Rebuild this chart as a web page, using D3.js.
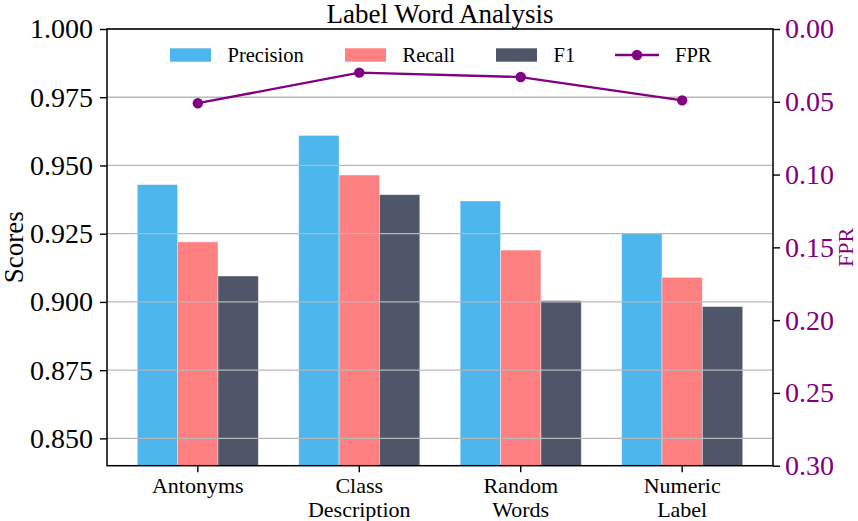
<!DOCTYPE html>
<html>
<head>
<meta charset="utf-8">
<script src="https://cdn.jsdelivr.net/npm/d3@7"></script>
<style>
  body { margin: 0; background: #fff; }
</style>
</head>
<body>
<script>
// Datos
var categorias = [["Antonyms"], ["Class", "Description"], ["Random", "Words"], ["Numeric", "Label"]];
var precision = [0.943, 0.961, 0.937, 0.925];
var recall = [0.922, 0.9465, 0.919, 0.909];
var f1 = [0.9095, 0.9393, 0.9005, 0.8983];
var fpr = [0.051, 0.030, 0.033, 0.049];
var ticksScores = [0.850, 0.875, 0.900, 0.925, 0.950, 0.975, 1.000];
var ticksFPR = [0.00, 0.05, 0.10, 0.15, 0.20, 0.25, 0.30];

var series = [
    { nombre: "Precision", valores: precision, color: "#4db6ec" },
    { nombre: "Recall", valores: recall, color: "#ff8080" },
    { nombre: "F1", valores: f1, color: "#4f566a" }
];
var morado = "#800080";
var fuente = "Liberation Serif";

var ancho = 858, alto = 521;
var izq = 107, der = 773, arriba = 29, abajo = 465.7;
var anchoBarra = 0.25;

var svg = d3.select("body").append("svg")
            .attr("width", ancho)
            .attr("height", alto)
            .attr("font-family", fuente);

// Escalas
var x = d3.scaleLinear().domain([-0.5625, 3.5625]).range([izq, der]);
var y = d3.scaleLinear().domain([0.84, 1.0]).range([abajo, arriba]);
var y2 = d3.scaleLinear().domain([0, 0.3]).range([arriba, abajo]);

// Barras
series.forEach(function(s, k) {
    var desplazamiento = (k - 1) * anchoBarra;
    svg.append("g").selectAll("rect")
       .data(s.valores)
       .enter().append("rect")
       .attr("x", function(d, i) { return x(i + desplazamiento - anchoBarra / 2); })
       .attr("y", function(d) { return y(d); })
       .attr("width", function(d, i) { return x(i + desplazamiento + anchoBarra / 2) - x(i + desplazamiento - anchoBarra / 2); })
       .attr("height", function(d) { return y(0.84) - y(d); })
       .attr("fill", s.color)
       .attr("stroke", "#ffffff")
       .attr("stroke-opacity", 0.5)
       .attr("stroke-width", 0.8);
});

// Rejilla horizontal (encima de las barras)
svg.append("g").selectAll("line")
   .data(ticksScores)
   .enter().append("line")
   .attr("x1", izq).attr("x2", der)
   .attr("y1", function(d) { return y(d); })
   .attr("y2", function(d) { return y(d); })
   .attr("stroke", "#b8b8b8")
   .attr("stroke-width", 1.3);

// Eje izquierdo
var ejeIzq = svg.append("g")
   .attr("transform", "translate(" + izq + ",0)")
   .call(d3.axisLeft(y).tickValues(ticksScores).tickFormat(d3.format(".3f")).tickSize(7).tickPadding(7));
ejeIzq.attr("font-family", fuente);
ejeIzq.select(".domain").remove();
ejeIzq.selectAll("line").attr("stroke", "black").attr("stroke-width", 1.4);
ejeIzq.selectAll("text").attr("font-size", "28px").attr("fill", "black").attr("font-family", fuente);

// Eje derecho (FPR invertido)
var ejeDer = svg.append("g")
   .attr("transform", "translate(" + der + ",0)")
   .call(d3.axisRight(y2).tickValues(ticksFPR).tickFormat(d3.format(".2f")).tickSize(7).tickPadding(5));
ejeDer.attr("font-family", fuente);
ejeDer.select(".domain").remove();
ejeDer.selectAll("line").attr("stroke", "black").attr("stroke-width", 1.4);
ejeDer.selectAll("text").attr("font-size", "28px").attr("fill", morado).attr("font-family", fuente);

// Eje inferior con etiquetas en dos líneas
var ejeX = svg.append("g");
ejeX.selectAll("line")
    .data(categorias)
    .enter().append("line")
    .attr("x1", function(d, i) { return x(i); })
    .attr("x2", function(d, i) { return x(i); })
    .attr("y1", abajo).attr("y2", abajo + 6.5)
    .attr("stroke", "black").attr("stroke-width", 1.4);
ejeX.selectAll("text")
    .data(categorias)
    .enter().append("text")
    .attr("text-anchor", "middle")
    .attr("font-family", fuente)
    .attr("font-size", "22px")
    .attr("fill", "black")
    .each(function(d, i) {
        var t = d3.select(this);
        d.forEach(function(linea, j) {
            t.append("tspan")
             .attr("x", x(i))
             .attr("y", 493 + j * 23.5)
             .text(linea);
        });
    });

// Marco de la gráfica
svg.append("rect")
   .attr("x", izq).attr("y", arriba)
   .attr("width", der - izq).attr("height", abajo - arriba)
   .attr("fill", "none")
   .attr("stroke", "black")
   .attr("stroke-width", 1.5);

// Línea FPR
var linea = d3.line()
    .x(function(d, i) { return x(i); })
    .y(function(d) { return y2(d); });
svg.append("path")
   .datum(fpr)
   .attr("d", linea)
   .attr("fill", "none")
   .attr("stroke", morado)
   .attr("stroke-width", 2.3);
svg.append("g").selectAll("circle")
   .data(fpr)
   .enter().append("circle")
   .attr("cx", function(d, i) { return x(i); })
   .attr("cy", function(d) { return y2(d); })
   .attr("r", 5.2)
   .attr("fill", morado);

// Títulos
svg.append("text")
   .attr("x", (izq + der) / 2).attr("y", 23)
   .attr("text-anchor", "middle")
   .attr("font-family", fuente)
   .attr("font-size", "27px")
   .attr("fill", "black")
   .text("Label Word Analysis");

svg.append("text")
   .attr("transform", "translate(22.5," + ((arriba + abajo) / 2) + ") rotate(-90)")
   .attr("text-anchor", "middle")
   .attr("font-family", fuente)
   .attr("font-size", "27px")
   .attr("fill", "black")
   .text("Scores");

svg.append("text")
   .attr("transform", "translate(852.5," + ((arriba + abajo) / 2) + ") rotate(-90)")
   .attr("text-anchor", "middle")
   .attr("font-family", fuente)
   .attr("font-size", "22px")
   .attr("fill", morado)
   .text("FPR");

// Leyenda
var leyendaY = 55;
var posLeyenda = [170, 345, 496];
series.forEach(function(s, k) {
    svg.append("rect")
       .attr("x", posLeyenda[k]).attr("y", leyendaY - 6.7)
       .attr("width", 41).attr("height", 13.4)
       .attr("fill", s.color);
    svg.append("text")
       .attr("x", posLeyenda[k] + 57.5).attr("y", leyendaY)
       .attr("dy", "0.35em")
       .attr("font-family", fuente)
       .attr("font-size", "20.5px")
       .attr("fill", "black")
       .text(s.nombre);
});
svg.append("line")
   .attr("x1", 615).attr("x2", 659)
   .attr("y1", leyendaY).attr("y2", leyendaY)
   .attr("stroke", morado).attr("stroke-width", 2.3);
svg.append("circle")
   .attr("cx", 637).attr("cy", leyendaY).attr("r", 5.2)
   .attr("fill", morado);
svg.append("text")
   .attr("x", 675).attr("y", leyendaY)
   .attr("dy", "0.35em")
   .attr("font-family", fuente)
   .attr("font-size", "20.5px")
   .attr("fill", "black")
   .text("FPR");
</script>
</body>
</html>
